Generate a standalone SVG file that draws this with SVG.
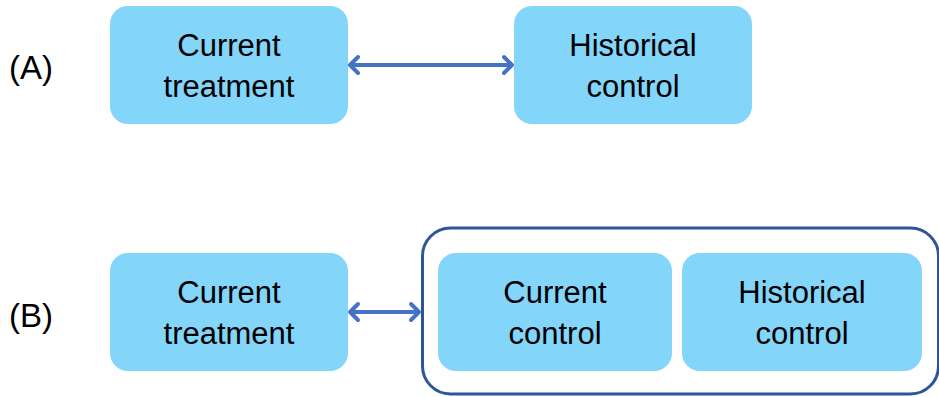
<svg xmlns="http://www.w3.org/2000/svg" width="939" height="397" viewBox="0 0 939 397">
<defs>
<style>
.box{fill:#83D5FA;}
.t{font-family:"Liberation Sans",Arial,sans-serif;font-size:31px;fill:#000;text-anchor:middle;}
.lab{font-family:"Liberation Sans",Arial,sans-serif;font-size:33px;fill:#000;}
.conn{stroke:#4472C4;stroke-width:4;fill:none;stroke-linecap:round;stroke-linejoin:round;}
</style>
</defs>
<text class="lab" x="9" y="79">(A)</text>
<text class="lab" x="9" y="327">(B)</text>
<g id="container">
<rect x="422.5" y="228" width="516" height="166" rx="28" fill="#fff" stroke="#2F5597" stroke-width="3"/>
</g>
<g id="a-current-treatment">
<rect class="box" x="110" y="6" width="238" height="118" rx="18"/>
<text class="t" x="229" y="56">Current</text>
<text class="t" x="229" y="97">treatment</text>
</g>
<g id="a-historical-control">
<rect class="box" x="514" y="6" width="238" height="118" rx="18"/>
<text class="t" x="633" y="56">Historical</text>
<text class="t" x="633" y="97">control</text>
</g>
<g id="b-current-treatment">
<rect class="box" x="110" y="253" width="238" height="118" rx="18"/>
<text class="t" x="229" y="303">Current</text>
<text class="t" x="229" y="344">treatment</text>
</g>
<g id="b-current-control">
<rect class="box" x="438" y="253" width="234" height="118" rx="18"/>
<text class="t" x="555" y="303">Current</text>
<text class="t" x="555" y="344">control</text>
</g>
<g id="b-historical-control">
<rect class="box" x="682" y="253" width="240" height="118" rx="18"/>
<text class="t" x="802" y="303">Historical</text>
<text class="t" x="802" y="344">control</text>
</g>
<g id="connectors">
<path class="conn" d="M350 65 H512 M358 57 L350 65 L358 73 M504 57 L512 65 L504 73"/>
<path class="conn" d="M350 312 H419 M358 304 L350 312 L358 320 M411 304 L419 312 L411 320"/>
</g>
</svg>
